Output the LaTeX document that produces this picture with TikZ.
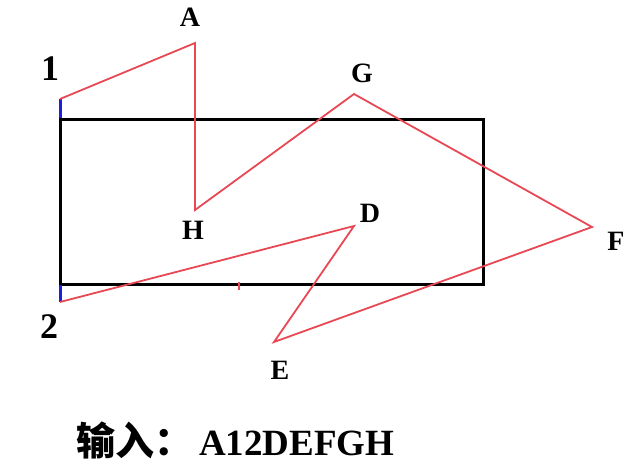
\documentclass[tikz,border=0pt]{standalone}
\usepackage{fontspec}
\setmainfont{Liberation Serif}
\newfontfamily\cjk{Noto Sans CJK SC}
\definecolor{lred}{RGB}{232,72,84}
\definecolor{lblue}{RGB}{30,30,225}
\tikzset{
  lbl/.style={font=\fontsize{28}{28}\selectfont\bfseries, inner sep=0pt},
  dig/.style={font=\fontsize{36}{36}\selectfont\bfseries, inner sep=0pt},
  redline/.style={draw=lred, line width=1.8pt, line join=miter},
  blueline/.style={draw=lblue, line width=3pt},
  boxline/.style={draw=black, line width=3pt}
}
\begin{document}
\begin{tikzpicture}[x=1pt,y=-1pt]
\useasboundingbox (0,0) rectangle (644,469);
% rectangle corners
\coordinate (TL) at (60,119);
\coordinate (BR) at (483,284);
\draw[boxline] (TL) rectangle (BR);
% polygon vertices
\coordinate (p1) at (60,99);
\coordinate (p1b) at (60,118);
\coordinate (p2) at (60,302);
\coordinate (p2b) at (60,285);
\coordinate (vA) at (195,43);
\coordinate (vH) at (195,210);
\coordinate (vG) at (354,94);
\coordinate (vF) at (592,227);
\coordinate (vE) at (274,342);
\coordinate (vD) at (354,226);
\coordinate (t1) at (239,282);
\coordinate (t2) at (239,290);
% blue marks
\draw[blueline] (p1) -- (p1b);
\draw[blueline] (p2b) -- (p2);
% red path
\draw[redline] (p1) -- (vA) -- (vH) -- (vG) -- (vF) -- (vE) -- (vD) -- (p2);
\draw[draw=lred, line width=2.2pt] (t1) -- (t2);
% labels
\node[dig] (l1) at (50,69) {1};
\node[dig] (l2) at (49,327) {2};
\node[lbl] (lA) at (190,17) {A};
\node[lbl] (lH) at (193,230) {H};
\node[lbl] (lG) at (362,73) {G};
\node[lbl] (lD) at (370,213) {D};
\node[lbl] (lF) at (616,241) {F};
\node[lbl] (lE) at (280,370) {E};
% bottom text
\node[anchor=base west, inner sep=0pt] (inp) at (76,455)
  {{\cjk\bfseries\fontsize{39}{39}\selectfont 输入：}\hspace{6pt}{\fontsize{37}{37}\selectfont\bfseries A12DEFGH}};
\end{tikzpicture}
\end{document}
